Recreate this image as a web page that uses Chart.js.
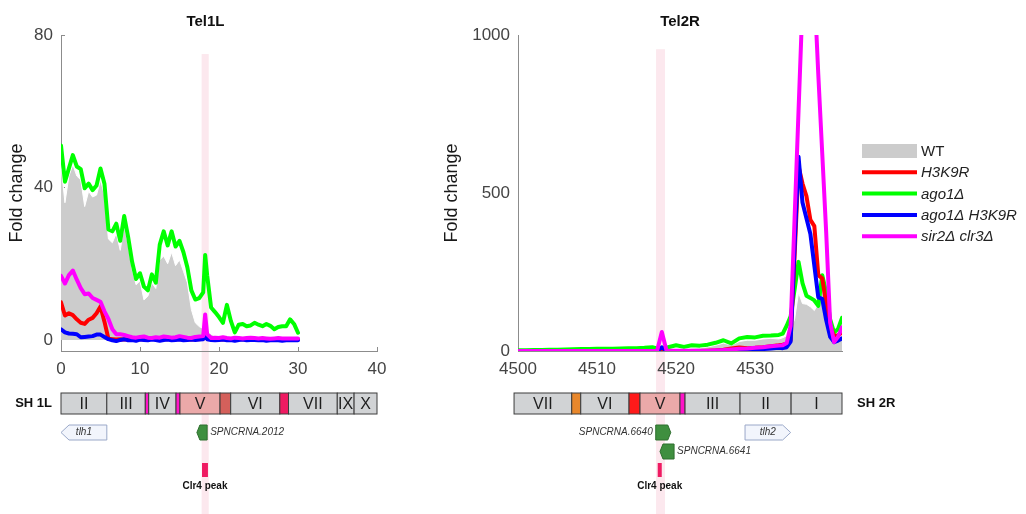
<!DOCTYPE html>
<html>
<head>
<meta charset="utf-8">
<title>Tel1L / Tel2R</title>
<script src="https://cdn.jsdelivr.net/npm/chart.js@4.4.1/dist/chart.umd.min.js"></script>
<style>
html,body{margin:0;padding:0;background:#fff;}
#wrap{position:relative;width:1026px;height:514px;overflow:hidden;}
#tel1Chart{position:absolute;left:0;top:0;}
#tel2Chart{position:absolute;left:420px;top:0;}
</style>
</head>
<body>
<div id="wrap">
<canvas id="tel1Chart" width="411" height="514"></canvas>
<canvas id="tel2Chart" width="606" height="514"></canvas>
</div>
<script>
// ======================================================
// DATA
// ======================================================

const seriesNames = ["WT", "H3K9R", "ago1Δ", "ago1Δ H3K9R", "sir2Δ clr3Δ"];

// ---------- Tel1L (kb from telomere) ----------
const tel1Kb = [0,0.5,1,1.5,2,2.5,3,3.5,4,4.5,
    5,5.5,6,6.5,7,7.5,8,8.5,9,9.5,
    10,10.5,11,11.5,12,12.5,13,13.5,14,14.5,
    15,15.5,16,16.5,17,17.5,18,18.25,18.5,19,
    19.5,20,20.5,21,21.5,22,22.5,23,23.5,24,
    24.5,25,25.5,26,26.5,27,27.5,28,28.5,29,
    29.5,30];

const tel1WT = [46,36,43,46,43,42,35,39,37.5,38,
    42,38,26.5,25.5,28,23.5,30,25,18.5,14.5,
    15.5,10.5,11.5,15,13.5,21,22,20,23,19.5,
    21,18,15,8,4.5,3.5,3,5,2.5,1.5,
    1,0.8,0.5,1,0.5,0.4,0.3,0.3,0.3,0.3,
    0.3,0.3,0.3,0.3,0.3,0.3,0.3,0.3,0.3,0.3,
    0.3,0.3];

const tel1H3K9R = [9.9,6.4,7,6.5,5.4,4.5,4.2,5.3,5.8,7,
    8.8,4.8,0.3,0.2,0.1,0.2,0.1,0.2,0.1,0.2,
    0.2,0.1,0.2,0.3,0.2,0.1,0.2,0.2,0.3,0.2,
    0.2,0.1,0.2,0.1,0.2,0.2,0.3,2.6,0.4,0.2,
    0.1,0.2,0.1,0.2,0.2,0.1,0.2,0.2,0.1,0.2,
    0.2,0.1,0.2,0.2,0.1,0.2,0.2,0.1,0.2,0.2,
    0.1,0.2];

const tel1Ago1 = [51,41.5,45,48.5,45.5,44.8,39.8,41,39.3,40.5,
    45,41,29,28.5,30.5,26,32.5,27,20.5,16,
    17.5,14,13,17.2,15,25,28.5,24.8,28.5,24.5,
    26,23,19,13,10.6,11,12.5,22.3,17,8.5,
    7.3,6,4.5,9.2,5,2,4,4.2,3.6,3.8,
    4.5,4,3.6,4.2,3.7,2.8,3.4,3.6,3.6,5.4,
    4.2,1.9];

const tel1Ago1H3K9R = [2.8,2,1.7,1.6,1.5,0.7,0.8,0.9,1,1.4,
    1.4,0.8,0.2,-0.1,-0.3,0,0.2,-0.1,0,-0.2,
    0.1,0,-0.1,0.1,0,-0.2,0,0.1,-0.1,0,
    0.1,-0.1,0,0.1,0,0.1,0.2,1.2,0.2,0,
    -0.1,0,0.1,-0.1,0,-0.2,0,0.1,-0.1,0,
    0,-0.1,0,-0.2,-0.1,0,-0.1,-0.2,-0.1,-0.1,
    -0.1,-0.1];

const tel1Sir2Clr3 = [16.8,14.8,17,18.2,15.8,13.6,12,12.2,11,10.5,
    10,7.5,5.5,2.8,1.5,1.5,1.3,1,0.7,0.6,
    0.8,0.9,0.6,0.5,0.7,0.6,0.9,0.8,0.6,0.7,
    1,0.8,0.6,0.5,0.8,0.9,1,6.7,1.5,0.5,
    0.6,0.5,0.7,0.5,0.4,0.6,0.5,0.4,0.5,0.6,
    0.5,0.4,0.5,0.4,0.3,0.4,0.5,0.4,0.4,0.4,
    0.4,0.4];

const tel1XTicks = [0, 10, 20, 30, 40];
const tel1XTickLabels = ["0", "10", "20", "30", "40"];
const tel1YTicks = [0, 40, 80];
const tel1YTickLabels = ["0", "40", "80"];

// SH 1L annotation (kb)
const sh1lStart = [0, 5.8, 10.67, 11.1, 14.56, 15.06, 20.13, 21.48, 27.7, 28.8, 34.97, 37.1];
const sh1lEnd   = [5.8, 10.67, 11.1, 14.56, 15.06, 20.13, 21.48, 27.7, 28.8, 34.97, 37.1, 40];
const sh1lLabel = ["II", "III", "", "IV", "", "V", "", "VI", "", "VII", "IX", "X"];
const sh1lType  = ["gray", "gray", "magenta", "gray", "magenta", "pink", "salmon", "gray", "crimson", "gray", "gray", "gray"];

const tel1GeneName   = ["tlh1", "SPNCRNA.2012"];
const tel1GeneStart  = [0, 17.2];
const tel1GeneEnd    = [5.8, 18.5];
const tel1GeneStrand = [-1, -1];
const tel1GeneType   = ["gene", "ncRNA"];
const tel1GeneRow    = [0, 0];
const tel1GeneSide   = ["in", "right"];
const tel1Clr4Peak   = [17.85, 18.6];
const tel1Band       = [17.8, 18.7];
const tel1BandTop    = 75;

// ---------- Tel2R (kb) ----------
const tel2Kb = [4500,4501,4502,4503,4504,4505,4506,4507,4508,4509,
    4510,4511,4512,4513,4514,4515,4516,4517,
    4517.6,4518.2,4518.8,
    4519,4520,4521,4522,4523,4524,4525,4526,4527,4528,4529,4530,4531,4532,4533,
    4533.5,4534,4534.5,4535,4535.5,4536,4536.5,4537,4537.5,4538,4538.5,4539,4539.5,4540,4540.5,4541];

const tel2WT = [1,1,1,1.5,1.5,2,2,2,2.5,2.5,
    3,3,3,3.5,3.5,4,4,5,
    4,9,4,
    5,8,6,9,10,13,18,25,19,30,34,34,38,40,38,
    42,48,70,100,185,150,148,140,128,150,225,170,45,30,35,40];

const tel2H3K9R = [0,0,0,0,0,0,0,0,0,0,
    0,0,0,0,0,0,0,0,
    0,3,0,
    0,0,0,0,0,1,2,4,8,11,9,10,12,15,18,
    20,23,35,300,585,530,490,415,395,240,230,150,80,46,50,58];

const tel2Ago1 = [2,2.5,3,3.5,4,4,5,5.5,6,6.5,
    7,7,7.5,8,9,9,10,12,
    8,10,9,
    12,18,13,18,17,20,26,34,24,40,44,43,48,49,51,
    55,80,110,195,282,215,175,168,160,143,240,185,100,58,70,105];

const tel2Ago1H3K9R = [0,0,0,0,0,0,0,0,0,0,
    0,0,0,0,0,0,0,0,
    0,12,0,
    0,0,0,0,0,0,0,1,2,3,4,5,6,8,10,
    9,12,30,330,615,470,420,370,270,170,165,98,45,28,33,40];

const tel2Sir2Clr3 = [0,0,0,0,0,0,0,0,0,0,
    0,0,0,0,0,0,0,0,
    1,60,1,
    1,1,1,1,1,1,2,3,5,7,8,10,12,15,17,
    18,25,80,420,760,1100,1500,1500,1150,875,625,375,90,28,45,75];

const tel2XTicks = [4500, 4510, 4520, 4530];
const tel2XTickLabels = ["4500", "4510", "4520", "4530"];
const tel2YTicks = [0, 500, 1000];
const tel2YTickLabels = ["0", "500", "1000"];

// SH 2R annotation (kb)
const sh2rStart = [4499.5, 4506.8, 4507.94, 4514.05, 4515.44, 4520.5, 4521.14, 4528.1, 4534.56];
const sh2rEnd   = [4506.8, 4507.94, 4514.05, 4515.44, 4520.5, 4521.14, 4528.1, 4534.56, 4541];
const sh2rLabel = ["VII", "", "VI", "", "V", "", "III", "II", "I"];
const sh2rType  = ["gray", "orange", "gray", "red", "pink", "magenta", "gray", "gray", "gray"];

const tel2GeneName   = ["SPNCRNA.6640", "SPNCRNA.6641", "tlh2"];
const tel2GeneStart  = [4517.43, 4517.97, 4528.73];
const tel2GeneEnd    = [4519.33, 4519.75, 4534.5];
const tel2GeneStrand = [1, -1, 1];
const tel2GeneType   = ["ncRNA", "ncRNA", "gene"];
const tel2GeneRow    = [0, 1, 0];
const tel2GeneSide   = ["left", "right", "in"];
const tel2Clr4Peak   = [4517.68, 4518.19];
const tel2Band       = [4517.47, 4518.6];
const tel2BandTop    = 955;

// ======================================================
// STYLE
// ======================================================

const FONT = '"Liberation Sans", Arial, sans-serif';

const SERIES_COLORS = ["#cccccc", "#ff0000", "#00ff00", "#0000ff", "#ff00ff"];
const SERIES_ORDER  = [10, 3, 4, 2, 1];   // lower = drawn on top

const SEG_COLORS = {
    gray: "#d1d3d5",
    pink: "#eba9a9",
    salmon: "#d4605b",
    magenta: "#ff14c8",
    crimson: "#ef1b62",
    orange: "#e8872b",
    red: "#ff1a1a"
};

Chart.defaults.font.family = FONT;

// ======================================================
// PLUGINS
// ======================================================

const bandPlugin = {
    id: "band",
    beforeDraw(chart, args, o){
        const {ctx, scales} = chart;
        const x1 = scales.x.getPixelForValue(o.range[0]);
        const x2 = scales.x.getPixelForValue(o.range[1]);
        const top = scales.y.getPixelForValue(o.top);
        ctx.save();
        ctx.fillStyle = "#fce8ee";
        ctx.fillRect(x1, top, x2 - x1, chart.height - top);
        ctx.restore();
    }
};

const panelTitlePlugin = {
    id: "panelTitle",
    afterDraw(chart, args, o){
        const ctx = chart.ctx;
        const area = chart.chartArea;
        ctx.save();
        ctx.fillStyle = "#111";
        ctx.font = "bold 15px " + FONT;
        ctx.textAlign = "center";
        ctx.textBaseline = "middle";
        ctx.fillText(o.text, (area.left + area.right) / 2 + o.dx, 22);
        ctx.restore();
    }
};

const trackPlugin = {
    id: "track",
    afterDraw(chart, args, t){
        const ctx = chart.ctx;
        const px = v => chart.scales.x.getPixelForValue(v);
        const base = chart.chartArea.bottom;
        const boxTop = base + 42, boxH = 21;

        ctx.save();
        ctx.textBaseline = "middle";

        // chromosome segments
        t.segStart.forEach((s, i) => {
            const x1 = px(s), x2 = px(t.segEnd[i]);
            ctx.fillStyle = SEG_COLORS[t.segType[i]];
            ctx.fillRect(x1, boxTop, x2 - x1, boxH);
            ctx.strokeStyle = "#3c3c3c";
            ctx.lineWidth = 1;
            ctx.strokeRect(x1, boxTop, x2 - x1, boxH);
            if(t.segLabel[i]){
                ctx.fillStyle = "#1e1e1e";
                ctx.font = "16px " + FONT;
                ctx.textAlign = "center";
                ctx.fillText(t.segLabel[i], (x1 + x2) / 2, boxTop + boxH / 2 + 1);
            }
        });

        // region name
        ctx.fillStyle = "#111";
        ctx.font = "bold 13px " + FONT;
        if(t.nameSide === "left"){
            ctx.textAlign = "right";
            ctx.fillText(t.name, px(t.segStart[0]) - 9, boxTop + boxH / 2);
        } else {
            ctx.textAlign = "left";
            ctx.fillText(t.name, px(t.segEnd[t.segEnd.length - 1]) + 15, boxTop + boxH / 2);
        }

        // genes / ncRNAs
        t.geneName.forEach((name, i) => {
            const x1 = px(t.geneStart[i]), x2 = px(t.geneEnd[i]);
            const y = base + (t.geneRow[i] === 0 ? 74 : 93), h = 15;
            const isGene = t.geneType[i] === "gene";
            const tip = isGene ? 8 : 3;
            ctx.beginPath();
            if(t.geneStrand[i] < 0){
                ctx.moveTo(x1, y + h / 2);
                ctx.lineTo(x1 + tip, y);
                ctx.lineTo(x2, y);
                ctx.lineTo(x2, y + h);
                ctx.lineTo(x1 + tip, y + h);
            } else {
                ctx.moveTo(x1, y);
                ctx.lineTo(x2 - tip, y);
                ctx.lineTo(x2, y + h / 2);
                ctx.lineTo(x2 - tip, y + h);
                ctx.lineTo(x1, y + h);
            }
            ctx.closePath();
            ctx.fillStyle = isGene ? "#f2f5fc" : "#3f8f3f";
            ctx.strokeStyle = isGene ? "#9aa8c8" : "#2e6e2e";
            ctx.lineWidth = 1;
            ctx.fill();
            ctx.stroke();

            ctx.fillStyle = "#333";
            ctx.font = "italic 10px " + FONT;
            const side = t.geneSide[i];
            if(side === "in"){
                ctx.textAlign = "center";
                ctx.fillText(name, (x1 + x2) / 2, y + h / 2);
            } else if(side === "right"){
                ctx.textAlign = "left";
                ctx.fillText(name, x2 + 3, y + h / 2);
            } else {
                ctx.textAlign = "right";
                ctx.fillText(name, x1 - 3, y + h / 2);
            }
        });

        // Clr4 peak
        const p1 = px(t.peak[0]), p2 = px(t.peak[1]);
        ctx.fillStyle = "#ef1a62";
        ctx.fillRect(p1, base + 112, p2 - p1, 14);
        ctx.fillStyle = "#111";
        ctx.font = "bold 10px " + FONT;
        ctx.textAlign = "center";
        ctx.fillText("Clr4 peak", (p1 + p2) / 2, base + 135);

        ctx.restore();
    }
};

const sideLegendPlugin = {
    id: "sideLegend",
    afterDraw(chart){
        const ctx = chart.ctx;
        const x0 = chart.chartArea.right + 20;
        ctx.save();
        seriesNames.forEach((name, i) => {
            const y = chart.chartArea.top + 116 + i * 21.3;
            if(i === 0){
                ctx.fillStyle = SERIES_COLORS[0];
                ctx.fillRect(x0, y - 7, 55, 14);
            } else {
                ctx.strokeStyle = SERIES_COLORS[i];
                ctx.lineWidth = 4;
                ctx.beginPath();
                ctx.moveTo(x0, y);
                ctx.lineTo(x0 + 55, y);
                ctx.stroke();
            }
            ctx.fillStyle = "#222";
            ctx.font = (i === 0 ? "" : "italic ") + "15px " + FONT;
            ctx.textAlign = "left";
            ctx.textBaseline = "middle";
            ctx.fillText(name, x0 + 59, y + 1);
        });
        ctx.restore();
    }
};

// ======================================================
// BUILDERS
// ======================================================

function points(xs, ys){
    return xs.map((x, i) => ({x: x, y: ys[i]}));
}

function makeDatasets(xs, series){
    return series.map((ys, i) => {
        if(i === 0){
            return {
                label: seriesNames[0],
                data: points(xs, ys),
                fill: "origin",
                backgroundColor: SERIES_COLORS[0],
                borderColor: "#ffffff",
                borderWidth: 1,
                pointRadius: 0,
                order: SERIES_ORDER[0]
            };
        }
        return {
            label: seriesNames[i],
            data: points(xs, ys),
            fill: false,
            borderColor: SERIES_COLORS[i],
            borderWidth: 4,
            borderJoinStyle: "round",
            borderCapStyle: "round",
            pointRadius: 0,
            tension: 0,
            order: SERIES_ORDER[i]
        };
    });
}

function xAxis(min, max, ticks, labels, tickMarks){
    return {
        type: "linear",
        min: min,
        max: max,
        afterBuildTicks: s => { s.ticks = ticks.map(v => ({value: v})); },
        afterFit: s => { s.height = 30; s.paddingLeft = 0; s.paddingRight = 0; },
        border: {display: true, color: "#8c8c8c", width: 1},
        grid: {display: true, drawOnChartArea: false, drawTicks: tickMarks, tickLength: -4, color: "#8c8c8c"},
        ticks: {
            color: "#444",
            font: {size: 17},
            padding: tickMarks ? 12 : 8,
            maxRotation: 0,
            autoSkip: false,
            callback: (v, i) => labels[i]
        }
    };
}

function yAxis(min, max, ticks, labels, width, tickMarks){
    return {
        type: "linear",
        min: min,
        max: max,
        afterBuildTicks: s => { s.ticks = ticks.map(v => ({value: v})); },
        afterFit: s => { s.width = width; s.paddingTop = 0; s.paddingBottom = 0; },
        border: {display: true, color: "#8c8c8c", width: 1},
        grid: {display: true, drawOnChartArea: false, drawTicks: tickMarks, tickLength: -4, color: "#8c8c8c"},
        ticks: {
            color: "#444",
            font: {size: 17},
            padding: tickMarks ? 12 : 8,
            autoSkip: false,
            callback: (v, i) => labels[i]
        },
        title: {
            display: true,
            text: "Fold change",
            color: "#1a1a1a",
            font: {size: 18},
            padding: {top: 6, bottom: 0}
        }
    };
}

function baseOptions(){
    return {
        responsive: false,
        animation: false,
        events: [],
        plugins: {
            legend: {display: false},
            tooltip: {enabled: false},
            title: {display: false}
        }
    };
}

// ======================================================
// TEL1L
// ======================================================

const tel1Options = baseOptions();
tel1Options.layout = {padding: {left: 0, top: 35, right: 34, bottom: 133}};
tel1Options.scales = {
    x: xAxis(0, 40, tel1XTicks, tel1XTickLabels, true),
    y: yAxis(-2.9, 80, tel1YTicks, tel1YTickLabels, 61, true)
};
tel1Options.plugins.band = {range: tel1Band, top: tel1BandTop};
tel1Options.plugins.panelTitle = {text: "Tel1L", dx: -13.5};
tel1Options.plugins.track = {
    name: "SH 1L", nameSide: "left",
    segStart: sh1lStart, segEnd: sh1lEnd, segLabel: sh1lLabel, segType: sh1lType,
    geneName: tel1GeneName, geneStart: tel1GeneStart, geneEnd: tel1GeneEnd,
    geneStrand: tel1GeneStrand, geneType: tel1GeneType, geneRow: tel1GeneRow, geneSide: tel1GeneSide,
    peak: tel1Clr4Peak
};

new Chart(document.getElementById("tel1Chart"), {
    type: "line",
    data: {
        datasets: makeDatasets(tel1Kb, [tel1WT, tel1H3K9R, tel1Ago1, tel1Ago1H3K9R, tel1Sir2Clr3])
    },
    options: tel1Options,
    plugins: [bandPlugin, trackPlugin, panelTitlePlugin]
});

// ======================================================
// TEL2R
// ======================================================

const tel2Options = baseOptions();
tel2Options.layout = {padding: {left: 15, top: 35, right: 184, bottom: 133}};
tel2Options.scales = {
    x: xAxis(4500, 4541, tel2XTicks, tel2XTickLabels, false),
    y: yAxis(0, 1000, tel2YTicks, tel2YTickLabels, 83, false)
};
tel2Options.plugins.band = {range: tel2Band, top: tel2BandTop};
tel2Options.plugins.panelTitle = {text: "Tel2R", dx: 0};
tel2Options.plugins.track = {
    name: "SH 2R", nameSide: "right",
    segStart: sh2rStart, segEnd: sh2rEnd, segLabel: sh2rLabel, segType: sh2rType,
    geneName: tel2GeneName, geneStart: tel2GeneStart, geneEnd: tel2GeneEnd,
    geneStrand: tel2GeneStrand, geneType: tel2GeneType, geneRow: tel2GeneRow, geneSide: tel2GeneSide,
    peak: tel2Clr4Peak
};

new Chart(document.getElementById("tel2Chart"), {
    type: "line",
    data: {
        datasets: makeDatasets(tel2Kb, [tel2WT, tel2H3K9R, tel2Ago1, tel2Ago1H3K9R, tel2Sir2Clr3])
    },
    options: tel2Options,
    plugins: [bandPlugin, trackPlugin, panelTitlePlugin, sideLegendPlugin]
});
</script>
</body>
</html>
